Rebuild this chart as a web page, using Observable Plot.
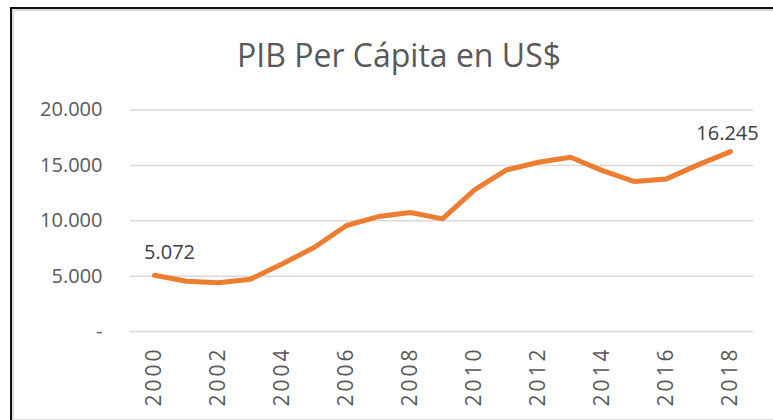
<!DOCTYPE html>
<html>
<head>
<meta charset="utf-8">
<script src="https://cdn.jsdelivr.net/npm/d3@7"></script>
<script src="https://cdn.jsdelivr.net/npm/@observablehq/plot@0.6"></script>
<style>
  html, body { margin: 0; padding: 0; background: #fff; }
  #wrap { position: relative; width: 773px; height: 420px; overflow: hidden; background: #fff; }
  #frameBlack { position: absolute; left: 10px; top: 7px; width: 800px; height: 500px;
    border-left: 2px solid #111; border-top: 2px solid #111; }
  #frameGray { position: absolute; left: 12px; top: 9px; width: 800px; height: 408px;
    border-left: 2px solid #dcdcdc; border-top: 2px solid #dcdcdc; border-bottom: 2px solid #dcdcdc; }
  #title { position: absolute; left: 0; width: 798px; top: 38.5px; text-align: center;
    font-family: "Open Sans", sans-serif; font-size: 32px; color: #595959; line-height: 1; }
  #chart { position: absolute; left: 0; top: 0; }
  #chart g[aria-label="x-axis tick label"] text { letter-spacing: 3px; }
</style>
</head>
<body>
<div id="wrap">
  <div id="frameBlack"></div>
  <div id="frameGray"></div>
  <div id="chart"></div>
  <div id="title">PIB Per Cápita en US$</div>
</div>
<script>
const years = [2000, 2001, 2002, 2003, 2004, 2005, 2006, 2007, 2008, 2009,
               2010, 2011, 2012, 2013, 2014, 2015, 2016, 2017, 2018];
const pibPerCapita = [5072, 4540, 4400, 4720, 6110, 7610, 9570, 10380, 10740, 10170,
                      12790, 14590, 15280, 15730, 14530, 13540, 13780, 15070, 16245];
const yTicks = [0, 5000, 10000, 15000, 20000];
const xTickYears = [2000, 2002, 2004, 2006, 2008, 2010, 2012, 2014, 2016, 2018];
const labeledYears = [2000, 2018];

const data = years.map((y, i) => ({year: y, value: pibPerCapita[i]}));
const fmt = v => v === 0 ? "-" : d3.format(",")(v).replace(/,/g, ".");
const labelData = data.filter(d => labeledYears.includes(d.year));

const chart = Plot.plot({
  width: 773,
  height: 420,
  marginLeft: 130,
  marginRight: 20,
  marginTop: 109.5,
  marginBottom: 89,
  style: { fontFamily: "'Open Sans', sans-serif", fontSize: "20px", color: "#595959", background: "transparent" },
  x: { type: "point", domain: years, padding: 0.5, label: null },
  y: { domain: [0, 20000], label: null },
  marks: [
    Plot.gridY(yTicks, { stroke: "#d9d9d9", strokeOpacity: 1, strokeWidth: 1.5 }),
    Plot.axisY(yTicks, { tickSize: 0, tickPadding: 28, tickFormat: fmt, fill: "#595959", fontSize: 20, label: null }),
    Plot.axisX(xTickYears, { tickSize: 0, tickPadding: 15, tickRotate: -90, fill: "#595959", fontSize: 21, label: null, tickFormat: d => String(d) }),
    Plot.line(data, { x: "year", y: "value", stroke: "#ED7D31", strokeWidth: 5, strokeLinejoin: "round", strokeLinecap: "round" }),
    Plot.text(labelData.filter(d => d.year === 2000), { x: "year", y: "value", text: d => fmt(d.value), dx: 15, dy: -23, fill: "#404040", fontSize: 20 }),
    Plot.text(labelData.filter(d => d.year === 2018), { x: "year", y: "value", text: d => fmt(d.value), dx: -3, dy: -18, fill: "#404040", fontSize: 20 })
  ]
});
document.getElementById("chart").appendChild(chart);
</script>
</body>
</html>
